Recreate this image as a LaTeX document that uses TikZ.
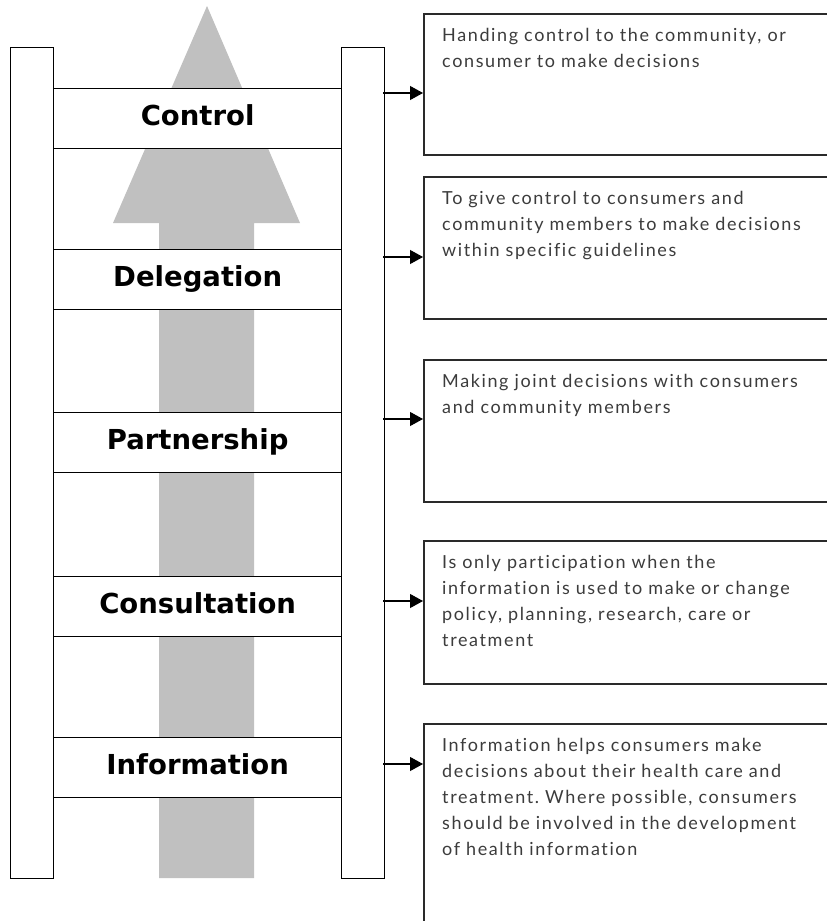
\documentclass[tikz,border=0pt]{standalone}
\usepackage{fontspec}
\setmainfont{Lato}[LetterSpace=9, Ligatures=NoCommon]
\newfontfamily\rungfont{DejaVu Sans}
\usetikzlibrary{arrows.meta,positioning}
\frenchspacing
\definecolor{arrowgray}{HTML}{C0C0C0}
\definecolor{txtgray}{HTML}{3C3C3C}
\definecolor{edgegray}{HTML}{2A2A2A}
\tikzset{
  rail/.style={draw=black, line width=1.3pt, fill=white, minimum width=43pt, minimum height=831pt, inner sep=0pt, anchor=north west},
  rung/.style={draw=black, line width=1.3pt, fill=white, minimum width=288pt, minimum height=60pt, inner sep=0pt, text height=19pt, text depth=5pt, anchor=north west, font=\rungfont\bfseries\fontsize{27.5}{32}\selectfont},
  descbox/.style={draw=edgegray, line width=1.6pt, fill=white, minimum width=430pt, inner sep=0pt, anchor=north west},
  desctext/.style={anchor=north west, inner sep=0pt, text width=385pt, align=left, text=txtgray, font=\fontsize{18}{26}\selectfont},
  link/.style={draw=black, line width=1.1pt, -{Triangle[length=13pt,width=14pt]}},
}
\begin{document}
\begin{tikzpicture}[x=1pt,y=-1pt]
\useasboundingbox (0,0) rectangle (827,921);
\clip (0,0) rectangle (827,921);
% big gray arrow
\fill[arrowgray] (159,878) -- (159,223) -- (113,223) -- (207,6) -- (300,223) -- (254,223) -- (254,878) -- cycle;
% rails
\node[rail] (lrail) at (10,47) {};
\node[rail] (rrail) at (341,47) {};
% rungs
\node[rung] (r1) at (53,88) {Control};
\node[rung] (r2) at (53,249) {Delegation};
\node[rung] (r3) at (53,412) {Partnership};
\node[rung] (r4) at (53,576) {Consultation};
\node[rung] (r5) at (53,737) {Information};
% description boxes
\node[descbox, minimum height=141pt] (b1) at (423,13) {};
\node[descbox, minimum height=142pt] (b2) at (423,176) {};
\node[descbox, minimum height=142pt] (b3) at (423,359) {};
\node[descbox, minimum height=143pt] (b4) at (423,540) {};
\node[descbox, minimum height=260pt] (b5) at (423,723) {};
% texts
\node[desctext] (t1) at (442,28) {Handing control to the community, or\\consumer to make decisions};
\node[desctext] (t2) at (442,191) {To give control to consumers and\\community members to make decisions\\within specific guidelines};
\node[desctext] (t3) at (442,374) {Making joint decisions with consumers\\and community members};
\node[desctext] (t4) at (442,555) {Is only participation when the\\information is used to make or change\\policy, planning, research, care or\\treatment};
\node[desctext] (t5) at (442,738) {Information helps consumers make\\decisions about their health care and\\treatment. Where possible, consumers\\should be involved in the development\\of health information};
% connectors
\coordinate (a1) at (383,93);
\coordinate (a2) at (383,257);
\coordinate (a3) at (383,419);
\coordinate (a4) at (383,601);
\coordinate (a5) at (383,764);
\draw[link] (a1) -- (b1.west |- a1);
\draw[link] (a2) -- (b2.west |- a2);
\draw[link] (a3) -- (b3.west |- a3);
\draw[link] (a4) -- (b4.west |- a4);
\draw[link] (a5) -- (b5.west |- a5);
\end{tikzpicture}
\end{document}
